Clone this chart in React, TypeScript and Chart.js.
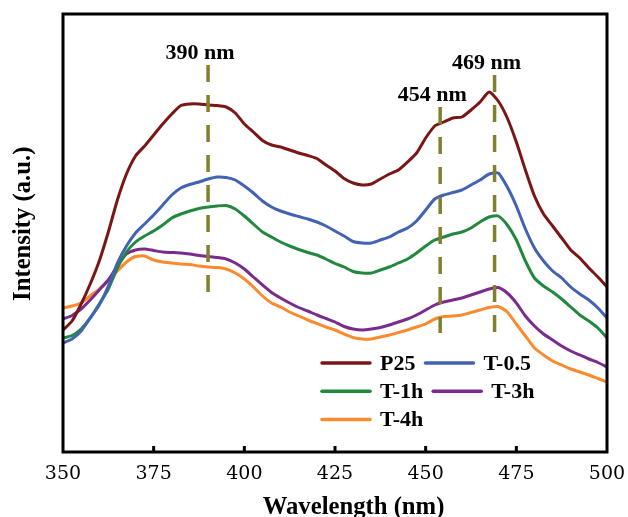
import React, { useEffect, useRef } from 'react';
import { Chart, registerables } from 'chart.js';

Chart.register(...registerables);

const WAVELENGTHS = [
  350, 352.5, 355, 357.5, 360, 362.5, 365, 367.5, 370, 372.5,
  375, 377.5, 380, 382.5, 385, 387.5, 390, 392.5, 395, 397.5,
  400, 402.5, 405, 407.5, 410, 412.5, 415, 417.5, 420, 422.5,
  425, 427.5, 430, 432.5, 435, 437.5, 440, 442.5, 445, 447.5,
  450, 452.5, 455, 457.5, 460, 462.5, 465, 467.5, 470, 472.5,
  475, 477.5, 480, 482.5, 485, 487.5, 490, 492.5, 495, 497.5,
  500,
];

const SERIES_NAMES = ['P25', 'T-0.5', 'T-1h', 'T-3h', 'T-4h'];
const SERIES_COLORS = ['#7a1616', '#4262b2', '#21883e', '#7b2b8d', '#fb8a2e'];

const P25 = [
  122, 131, 148, 168, 191, 220, 252, 278, 296, 306,
  317, 328, 338, 346.5, 348, 348, 347, 346.5, 345, 339,
  328, 320, 311.5, 307, 305, 302, 299, 296.5, 293.5, 287,
  281, 273.5, 269, 267, 268, 273, 278, 282, 290, 299,
  314, 326, 330, 334, 335, 342, 350, 360, 351, 334,
  310, 282, 256, 238, 226, 214, 202, 194, 184, 175,
  165,
];
const T05 = [
  109, 113, 121, 134, 147, 166, 189, 206, 219, 228,
  237, 247, 257, 264, 267.5, 270, 273, 275, 274.5, 272,
  266, 259, 251, 245, 241, 238, 235.5, 233, 230, 226,
  221, 216, 210.5, 209, 209, 212, 215, 220, 224, 231,
  242, 253, 257, 259.5, 262, 267, 272, 278, 279, 265,
  246, 223, 204, 191, 181, 174, 165, 158, 152, 144,
  134,
];
const T1H = [
  114, 116.5, 123, 134, 148, 163, 184, 200, 210, 216,
  221, 227, 234, 238, 241, 243.5, 245, 246, 246.5, 243,
  236, 228, 220, 215, 210, 206, 202.5, 199.5, 197, 193,
  188.5, 185, 180.5, 179, 179, 182, 185, 189, 193, 199,
  206, 212, 215, 218, 220, 224, 230, 235, 236, 227,
  212, 191, 174, 166, 160, 153, 145, 137, 131, 124,
  114,
];
const T3H = [
  133, 136.5, 143, 152, 162, 172, 186, 198, 202, 203,
  201.5, 200, 199.5, 199, 198, 196.5, 195.5, 194.5, 193, 189,
  183, 175, 167, 159.5, 154, 149, 144.5, 141, 137, 133.5,
  130, 125.5, 123, 122, 123, 124.5, 127, 130, 133, 137,
  142, 147, 150, 152, 154, 157, 160, 163, 164.5, 159,
  149, 136, 126, 118, 112, 106, 101, 97, 93, 89.5,
  85,
];
const T4H = [
  144, 146, 149, 156, 163, 172, 181, 190, 195.5, 196,
  192, 190, 189, 188, 187.5, 186, 185, 184.5, 183, 179,
  173, 165, 156, 149, 145, 140, 136, 132, 128.5, 125,
  122, 118, 114.5, 113, 113, 115, 117, 119.5, 122, 125,
  128, 133, 135.5, 136, 137, 139.5, 142, 144.5, 145.5, 140,
  128, 116, 104, 97, 91, 87, 83, 80, 77, 73.5,
  70,
];

const PEAKS = [390, 454, 469];
const PEAK_LABELS = ['390 nm', '454 nm', '469 nm'];
const PEAK_TOP = [387, 345, 377];
const PEAK_BOTTOM = [160, 119, 120];
const PEAK_COLOR = '#80802f';

const X_MIN = 350;
const X_MAX = 500;
const X_STEP = 25;
const Y_MIN = 0;
const Y_MAX = 438;

const X_TITLE = 'Wavelength (nm)';
const Y_TITLE = 'Intensity (a.u.)';

const SERIF = '"Liberation Serif", "Times New Roman", serif';
const NBSP = '\u00a0';

const decorPlugin = {
  id: 'decor',
  afterDatasetsDraw(chart: any) {
    const { ctx, chartArea: a, scales } = chart;
    const x = scales.x;
    const y = scales.y;
    ctx.save();
    // frame
    ctx.strokeStyle = '#000';
    ctx.lineWidth = 3;
    ctx.strokeRect(a.left, a.top, a.right - a.left, a.bottom - a.top);
    // inward ticks
    ctx.beginPath();
    x.ticks.forEach((t: any) => {
      if (t.value <= X_MIN || t.value >= X_MAX) return;
      const px = x.getPixelForValue(t.value);
      ctx.moveTo(px, a.bottom);
      ctx.lineTo(px, a.bottom - 6);
    });
    ctx.stroke();
    // peak labels
    ctx.fillStyle = '#000';
    ctx.font = 'bold 22px ' + SERIF;
    ctx.textAlign = 'center';
    ctx.textBaseline = 'middle';
    PEAKS.forEach((p, i) => {
      ctx.fillText(PEAK_LABELS[i], x.getPixelForValue(p) - 8, y.getPixelForValue(PEAK_TOP[i]) - 12);
    });
    // legend
    const items = chart.data.datasets.filter((d: any) => d.label !== '__peak');
    const startX = a.left + 259;
    const startY = a.top + 349;
    const rowH = 28.3;
    const lineLen = 48;
    const gap = 10;
    ctx.textAlign = 'left';
    let cx = startX;
    items.forEach((d: any, i: number) => {
      const row = Math.floor(i / 2);
      if (i % 2 === 0) cx = startX;
      const cy = startY + row * rowH;
      ctx.strokeStyle = d.borderColor;
      ctx.lineWidth = 3.5;
      ctx.lineCap = 'round';
      ctx.beginPath();
      ctx.moveTo(cx, cy);
      ctx.lineTo(cx + lineLen, cy);
      ctx.stroke();
      cx += lineLen + gap;
      ctx.fillStyle = '#000';
      ctx.fillText(d.label, cx, cy + 1);
      cx += ctx.measureText(d.label).width + gap;
    });
    ctx.restore();
  },
};

export default function App() {
  const ref = useRef<HTMLCanvasElement>(null);
  useEffect(() => {
    if (!ref.current) return;
    const series = [P25, T05, T1H, T3H, T4H];
    const datasets: any[] = series.map((vals, i) => ({
      label: SERIES_NAMES[i],
      data: WAVELENGTHS.map((w, j) => ({ x: w, y: vals[j] })),
      borderColor: SERIES_COLORS[i],
      backgroundColor: SERIES_COLORS[i],
      borderWidth: 3,
      pointRadius: 0,
      tension: 0.2,
      fill: false,
      order: 1,
    }));
    PEAKS.forEach((p, i) => {
      datasets.push({
        label: '__peak',
        data: [
          { x: p, y: PEAK_TOP[i] },
          { x: p, y: PEAK_BOTTOM[i] },
        ],
        borderColor: PEAK_COLOR,
        borderWidth: 3.5,
        borderDash: [17, 13],
        pointRadius: 0,
        tension: 0,
        fill: false,
        order: -1,
      });
    });
    const chart = new Chart(ref.current, {
      type: 'line',
      data: { datasets },
      plugins: [decorPlugin],
      options: {
        responsive: false,
        animation: false,
        devicePixelRatio: 1,
        layout: { padding: { left: 0, top: 14, right: 21, bottom: 0 } },
        plugins: {
          legend: { display: false },
          tooltip: { enabled: false },
        },
        scales: {
          x: {
            type: 'linear',
            min: X_MIN,
            max: X_MAX,
            ticks: {
              stepSize: X_STEP,
              color: '#000',
              font: { family: '"DejaVu Serif", serif', size: 19 },
              padding: 3,
              maxRotation: 0,
            },
            grid: { display: false },
            border: { display: false },
            title: {
              display: true,
              text: NBSP.repeat(6) + X_TITLE,
              color: '#000',
              font: { family: SERIF, size: 24.7, weight: 'bold', lineHeight: 1 },
              padding: { top: 0, bottom: -3 },
            },
            afterFit: (s: any) => {
              s.height = 65;
              s.paddingLeft = 0;
              s.paddingRight = 0;
            },
          },
          y: {
            type: 'linear',
            min: Y_MIN,
            max: Y_MAX,
            ticks: { display: false },
            grid: { display: false },
            border: { display: false },
            title: {
              display: true,
              text: NBSP.repeat(3) + Y_TITLE,
              color: '#000',
              font: { family: SERIF, size: 24.7, weight: 'bold', lineHeight: 1 },
              padding: { top: 11, bottom: 0 },
            },
            afterFit: (s: any) => {
              s.width = 63;
              s.paddingTop = 0;
              s.paddingBottom = 0;
            },
          },
        },
      } as any,
    });
    return () => chart.destroy();
  }, []);
  return (
    <div style={{ position: 'absolute', left: 0, top: 0, width: 628, height: 517, background: '#fff', overflow: 'hidden' }}>
      <canvas ref={ref} width={628} height={517} style={{ display: 'block', width: 628, height: 517 }} />
    </div>
  );
}
